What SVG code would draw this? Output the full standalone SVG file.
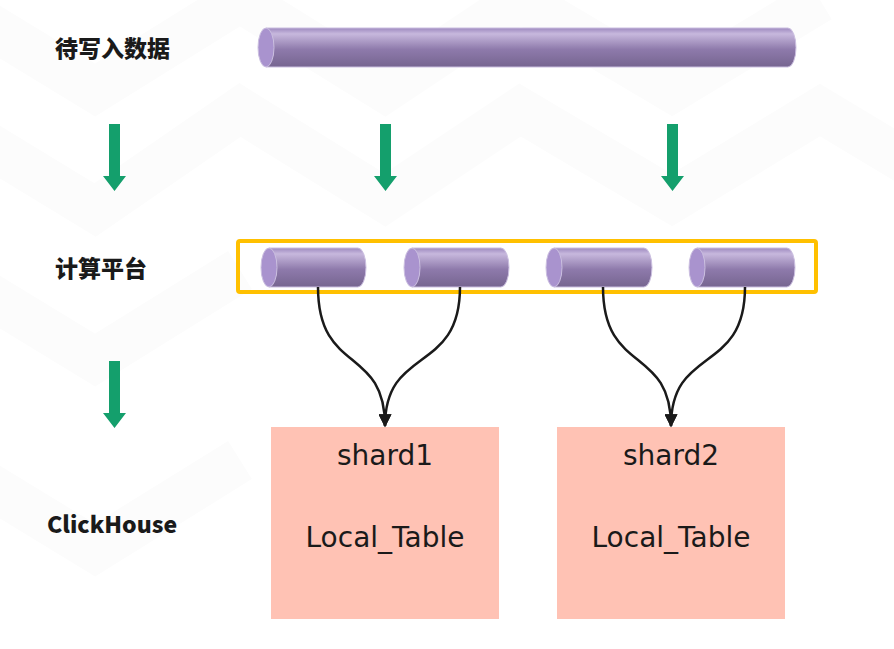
<svg xmlns="http://www.w3.org/2000/svg" width="894" height="649" viewBox="0 0 894 649">
<defs>
<linearGradient id="cylG" x1="0" y1="0" x2="0" y2="1">
<stop offset="0" stop-color="#9d89bf"/>
<stop offset="0.15" stop-color="#c7b8dd"/>
<stop offset="0.55" stop-color="#8e7aab"/>
<stop offset="1" stop-color="#766590"/>
</linearGradient>
<marker id="ah" viewBox="0 0 10 10" refX="9" refY="5" markerWidth="15" markerHeight="13" orient="auto" markerUnits="userSpaceOnUse">
<path d="M0,0 L10,5 L0,10 z" fill="#1a1a1a"/>
</marker>
<style>
.body{fill:url(#cylG);stroke:#cbbfe0;stroke-width:1}
.cap{fill:#a993ce;stroke:#cbbfe0;stroke-width:1}
.garrow{fill:#149f6c}
.lbl{font-family:"Noto Sans CJK SC","Noto Sans",sans-serif;font-weight:900;font-size:23px;fill:#1a1a1a}
.shard{fill:#ffc2b4}
.st{font-family:"Comic Sans MS","DejaVu Sans",sans-serif;font-size:28px;fill:#1a1a1a;text-anchor:middle}
.conn{fill:none;stroke:#1a1a1a;stroke-width:2.5}
.bg{fill:none;stroke:#fcfcfc;stroke-width:45}
</style>
</defs>
<rect width="894" height="649" fill="#ffffff"/>
<g id="background">
<polyline class="bg" points="-20,20 95,90 240,0"/>
<polyline class="bg" points="-20,140 95,210 240,110 385,200 520,110 672,200 820,110 920,170"/>
<polyline class="bg" points="-20,290 95,360 240,270"/>
<polyline class="bg" points="-20,480 95,550 240,460"/>
<polyline class="bg" points="240,0 385,90 520,0 672,90 820,0"/>
</g>
<g id="label-data"><text class="lbl" x="55" y="57">待写入数据</text></g>
<g id="label-platform"><text class="lbl" x="55" y="277">计算平台</text></g>
<g id="label-clickhouse"><text class="lbl" x="47" y="533" font-family="'Open Sans','Noto Sans',sans-serif" font-size="24" font-weight="bold">ClickHouse</text></g>
<g id="data-stream">
<path class="body" d="M266,28 L788,28 A8,19.5 0 0 1 788,67 L266,67 Z"/>
<ellipse class="cap" cx="266" cy="47.5" rx="8" ry="19.5"/>
</g>
<g id="platform">
<rect x="238" y="241" width="578" height="51" fill="none" stroke="#ffc000" stroke-width="4" rx="2"/>
</g>
<g id="task1">
<path class="body" d="M269,248 L358,248 A8,19.5 0 0 1 358,287 L269,287 Z"/>
<ellipse class="cap" cx="269" cy="267.5" rx="8" ry="19.5"/>
</g>
<g id="task2">
<path class="body" d="M412,248 L501,248 A8,19.5 0 0 1 501,287 L412,287 Z"/>
<ellipse class="cap" cx="412" cy="267.5" rx="8" ry="19.5"/>
</g>
<g id="task3">
<path class="body" d="M554,248 L644,248 A8,19.5 0 0 1 644,287 L554,287 Z"/>
<ellipse class="cap" cx="554" cy="267.5" rx="8" ry="19.5"/>
</g>
<g id="task4">
<path class="body" d="M697,248 L787,248 A8,19.5 0 0 1 787,287 L697,287 Z"/>
<ellipse class="cap" cx="697" cy="267.5" rx="8" ry="19.5"/>
</g>
<g id="shard1">
<rect class="shard" x="271" y="427" width="228" height="192"/>
<text class="st" x="385" y="465">shard1</text>
<text class="st" x="385" y="547">Local_Table</text>
</g>
<g id="shard2">
<rect class="shard" x="557" y="427" width="228" height="192"/>
<text class="st" x="671" y="465">shard2</text>
<text class="st" x="671" y="547">Local_Table</text>
</g>
<g id="connectors">
<path class="garrow" d="M109,124 H120 V176 H126 L114.5,191 L103,176 H109 Z"/>
<path class="garrow" d="M380,124 H391 V176 H397 L385.5,191 L374,176 H380 Z"/>
<path class="garrow" d="M667,124 H678 V176 H684 L672.5,191 L661,176 H667 Z"/>
<path class="garrow" d="M109,361 H120 V413 H126 L114.5,428 L103,413 H109 Z"/>
<path class="conn" d="M318,287 C318,375 385,345 385,426" marker-end="url(#ah)"/>
<path class="conn" d="M460,287 C460,375 385,345 385,426" marker-end="url(#ah)"/>
<path class="conn" d="M603,287 C603,375 671,345 671,426" marker-end="url(#ah)"/>
<path class="conn" d="M745,287 C745,375 671,345 671,426" marker-end="url(#ah)"/>
</g>
</svg>
